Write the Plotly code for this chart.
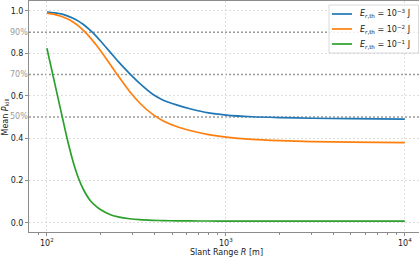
import plotly.graph_objects as go

# ---- data ----
slant_range = [100, 110, 120, 130, 140, 150, 160, 175, 190, 200, 225, 250, 290, 330,
               390, 450, 530, 630, 800, 1000, 1400, 2000, 3000, 5000, 10000]
pkill_e3 = [0.995, 0.991, 0.986, 0.977, 0.966, 0.952, 0.936, 0.908, 0.878, 0.857, 0.807,
            0.762, 0.704, 0.658, 0.607, 0.578, 0.557, 0.539, 0.519, 0.509, 0.501, 0.497,
            0.494, 0.492, 0.490]
pkill_e2 = [0.990, 0.984, 0.975, 0.963, 0.948, 0.930, 0.908, 0.873, 0.836, 0.811, 0.750,
            0.694, 0.620, 0.566, 0.512, 0.480, 0.455, 0.436, 0.417, 0.405, 0.394, 0.388,
            0.384, 0.381, 0.379]
pkill_e1 = [0.824, 0.668, 0.525, 0.395, 0.290, 0.212, 0.158, 0.105, 0.076, 0.062, 0.040,
            0.029, 0.020, 0.0155, 0.0125, 0.011, 0.0102, 0.0097, 0.0093, 0.009, 0.009,
            0.009, 0.009, 0.009, 0.009]
series_names = ["<i>E</i><sub><i>r</i>,th</sub> = 10<sup>\u22123</sup> J",
                "<i>E</i><sub><i>r</i>,th</sub> = 10<sup>\u22122</sup> J",
                "<i>E</i><sub><i>r</i>,th</sub> = 10<sup>\u22121</sup> J"]
series_colors = ["#1f77b4", "#ff7f0e", "#2ca02c"]

y_ticks = [0.0, 0.2, 0.4, 0.6, 0.8, 1.0]
y_ticktext = ["0.0", "0.2", "0.4", "0.6", "0.8", "1.0"]
x_ticks = [100, 1000, 10000]
x_ticktext = ["10<sup>2</sup>", "10<sup>3</sup>", "10<sup>4</sup>"]
x_minor = [90, 200, 300, 400, 500, 600, 700, 800, 900,
           2000, 3000, 4000, 5000, 6000, 7000, 8000, 9000]
ref_levels = [0.5, 0.7, 0.9]
ref_labels = ["50%", "70%", "90%"]
x_title = "Slant Range <i>R</i> [m]"
y_title = "Mean <i>P</i><sub>kill</sub>"

# ---- layout geometry ----
W, H = 419, 258
ML, MR, MT, MB = 29, 0, 1, 26
PW, PH = W - ML - MR, H - MT - MB

def px_x(p):
    return (p - ML) / PW

def px_y(p):
    return (H - MB - p) / PH

FONT = "DejaVu Sans"
AX = "#8c8c8c"
TXT = "#1a1a1a"

fig = go.Figure()
for vals, name, col in zip([pkill_e3, pkill_e2, pkill_e1], series_names, series_colors):
    fig.add_trace(go.Scatter(x=slant_range, y=vals, mode="lines", name=name,
                             line=dict(color=col, width=1.7, shape="spline", smoothing=0.7),
                             showlegend=False))

shapes = []
annotations = []
for lv, lb in zip(ref_levels, ref_labels):
    shapes.append(dict(type="line", xref="paper", x0=0, x1=1, yref="y", y0=lv, y1=lv,
                       line=dict(color="#9a9a9a", width=1.5, dash="2px,2px"), layer="below"))
    annotations.append(dict(text=lb, xref="paper", x=0, xanchor="right", xshift=1,
                            yref="y", y=lv, yanchor="middle", showarrow=False,
                            font=dict(family=FONT, size=8, color="#9a9a9a")))

# axis titles
annotations.append(dict(text=x_title, xref="paper", yref="paper", x=0.5 * (px_x(47) + px_x(405)),
                        y=px_y(252), xanchor="center", yanchor="middle", showarrow=False,
                        font=dict(family=FONT, size=8, color=TXT)))
annotations.append(dict(text=y_title, xref="paper", yref="paper", x=px_x(5), y=0.5,
                        xanchor="center", yanchor="middle", textangle=-90, showarrow=False,
                        font=dict(family=FONT, size=8, color=TXT)))

# custom legend (matplotlib-like)
shapes.append(dict(type="rect", xref="paper", yref="paper",
                   x0=px_x(329), x1=px_x(418.5), y0=px_y(53), y1=px_y(5),
                   line=dict(color="#d0d0d0", width=0.8), fillcolor="rgba(255,255,255,0.85)",
                   layer="above"))
for i, (name, col) in enumerate(zip(series_names, series_colors)):
    yy = 14 + 15 * i
    shapes.append(dict(type="line", xref="paper", yref="paper",
                       x0=px_x(332), x1=px_x(352), y0=px_y(yy), y1=px_y(yy),
                       line=dict(color=col, width=1.7), layer="above"))
    annotations.append(dict(text=name, xref="paper", yref="paper", x=px_x(358), y=px_y(yy),
                            xanchor="left", yanchor="middle", showarrow=False,
                            font=dict(family=FONT, size=8, color=TXT)))

fig.update_layout(
    width=W, height=H, autosize=False,
    margin=dict(l=ML, r=MR, t=MT, b=MB, pad=0),
    paper_bgcolor="white", plot_bgcolor="white",
    font=dict(family=FONT, size=8, color=TXT),
    shapes=shapes, annotations=annotations, showlegend=False,
)
fig.update_xaxes(
    type="log", range=[1.9, 4.079], automargin=False,
    tickmode="array", tickvals=x_ticks, ticktext=x_ticktext,
    ticks="outside", ticklen=3, tickwidth=1, tickcolor=AX,
    showline=True, linecolor=AX, linewidth=1, mirror=True,
    showgrid=True, gridcolor="#dddddd", gridwidth=0.8, griddash="2px,2px",
    minor=dict(tickmode="array", tickvals=x_minor, ticks="outside", ticklen=2,
               tickwidth=0.8, tickcolor=AX, showgrid=False),
    tickfont=dict(family=FONT, size=8, color=TXT),
    zeroline=False,
)
fig.update_yaxes(
    range=[-0.0425, 1.047], automargin=False,
    tickmode="array", tickvals=y_ticks, ticktext=y_ticktext,
    ticks="outside", ticklen=3, tickwidth=1, tickcolor=AX,
    showline=True, linecolor=AX, linewidth=1, mirror=False,
    showgrid=True, gridcolor="#dddddd", gridwidth=0.8, griddash="2px,2px",
    tickfont=dict(family=FONT, size=8, color=TXT),
    zeroline=False,
)

fig.write_html("out.html", config={"displayModeBar": False},
               post_script="document.body.style.margin='0';document.body.style.padding='0';")
